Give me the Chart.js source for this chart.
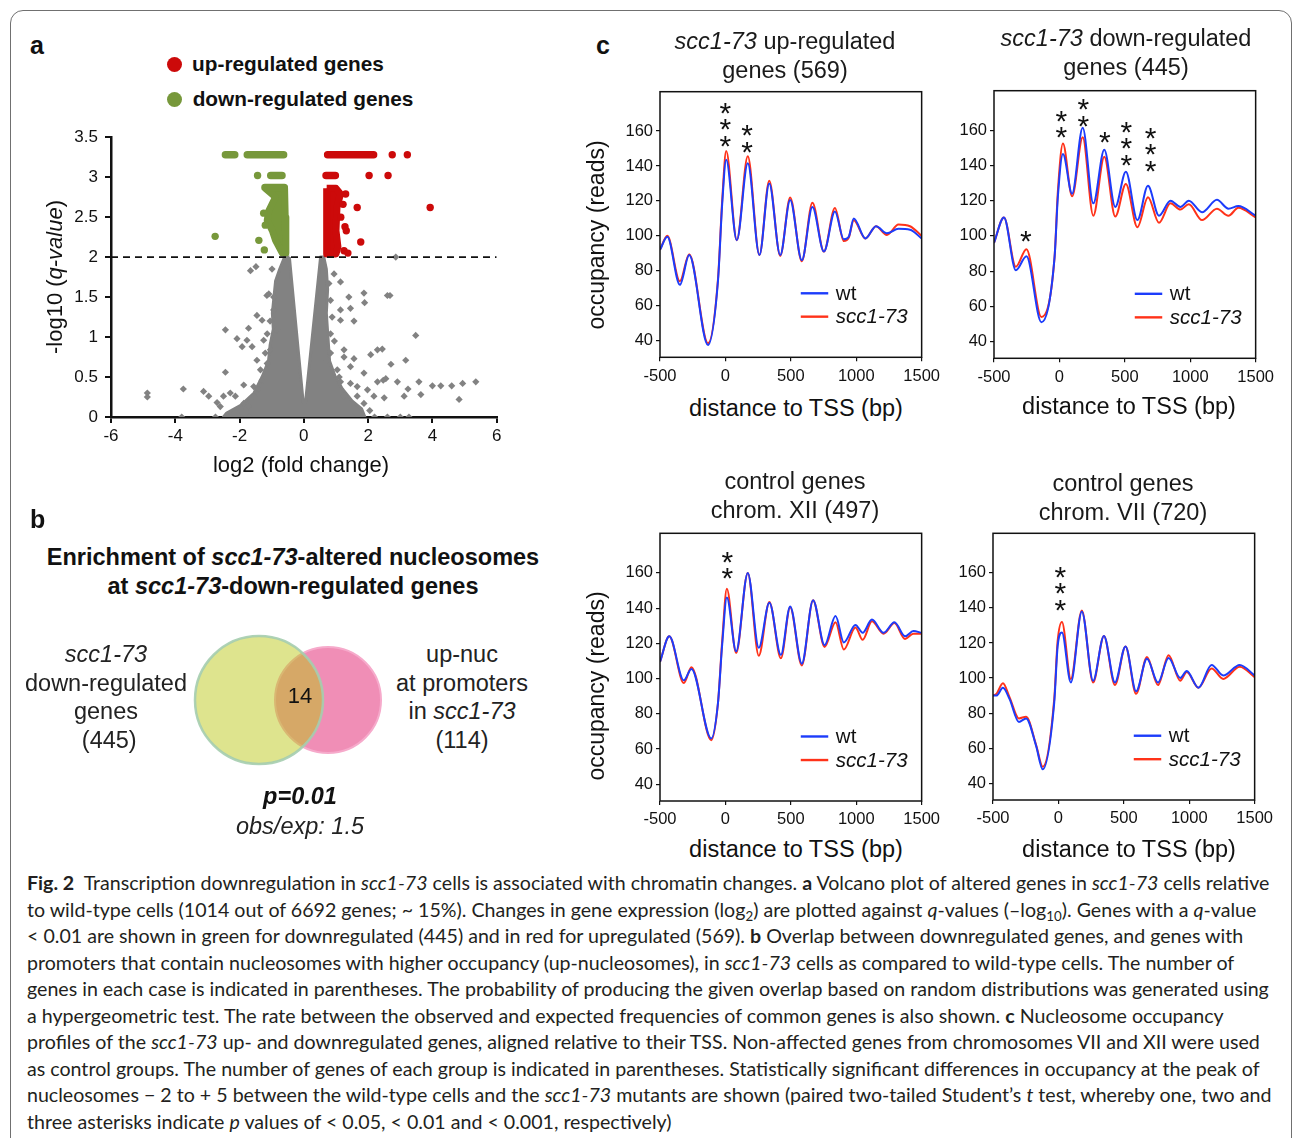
<!DOCTYPE html>
<html>
<head>
<meta charset="utf-8">
<script src="https://cdn.jsdelivr.net/npm/chart.js@4.4.1/dist/chart.umd.min.js"></script>
<style>
body { margin: 0; background: #fff; }
#fig { position: relative; width: 1293px; height: 1138px; overflow: hidden; font-family: "Liberation Sans", Arial, sans-serif; color: #111; }
.frame { position: absolute; left: 10px; top: 10px; width: 1282px; height: 1300px; border: 1.5px solid #707070; border-radius: 13px; box-sizing: border-box; }
.box { position: absolute; }
canvas { display: block; }
.t { position: absolute; transform: translate(-50%, -50%); white-space: nowrap; text-align: center; z-index: 2; }
.rot { transform: translate(-50%, -50%) rotate(-90deg); }
.lbl { position: absolute; font-weight: bold; font-size: 25px; z-index: 2; }
.dot { position: absolute; width: 15px; height: 15px; border-radius: 50%; }
#cap { position: absolute; left: 27px; top: 870px; font-family: Lato, "Open Sans", sans-serif; font-size: 20px; line-height: 26.5px; color: #231f20; }
#cap .ln { white-space: nowrap; width: max-content; }
#cap sub { font-size: 0.68em; line-height: 0; vertical-align: -0.3em; }
</style>
</head>
<body>
<div id="fig">
  <div class="frame"></div>

  <!-- panel a -->
  <div class="lbl" style="left:30px; top:31px">a</div>
  <div class="dot" style="left:167px; top:57px; background:#cc0a0a"></div>
  <div class="dot" style="left:167px; top:92px; background:#77983b"></div>
  <div class="t" style="left:288px; top:64px; font-weight:bold; font-size:20.8px">up-regulated genes</div>
  <div class="t" style="left:303px; top:99px; font-weight:bold; font-size:20.8px">down-regulated genes</div>
  <div class="box" style="left:40px; top:120px"><canvas id="volcano" width="480" height="345"></canvas></div>
  <div class="t rot" style="left:55px; top:277px; font-size:22px">-log10 (<i>q-value</i>)</div>
  <div class="t" style="left:301px; top:465px; font-size:22px">log2 (fold change)</div>

  <!-- panel b -->
  <div class="lbl" style="left:30px; top:505px">b</div>
  <div class="t" style="left:293px; top:572px; font-weight:bold; font-size:23.5px; line-height:29px">Enrichment of <i>scc1-73</i>-altered nucleosomes<br>at <i>scc1-73</i>-down-regulated genes</div>
  <div class="box" style="left:170px; top:620px"><canvas id="venn" width="225" height="160"></canvas></div>
  <div class="t" style="left:106px; top:697px; font-size:23.5px; line-height:28.7px; color:#222"><i>scc1-73</i><br>down-regulated<br>genes<br>&nbsp;(445)</div>
  <div class="t" style="left:462px; top:697px; font-size:23.5px; line-height:28.7px; color:#222">up-nuc<br>at promoters<br>in <i>scc1-73</i><br>(114)</div>
  <div class="t" style="left:300px; top:696px; font-size:22px">14</div>
  <div class="t" style="left:300px; top:796px; font-size:23.5px; font-weight:bold; font-style:italic">p=0.01</div>
  <div class="t" style="left:300px; top:826px; font-size:23.5px; font-style:italic; color:#222">obs/exp: 1.5</div>

  <!-- panel c -->
  <div class="lbl" style="left:596px; top:31px">c</div>
  <div class="t" style="left:785px; top:56px; font-size:23.5px; line-height:29px; color:#1a1a1a"><i>scc1-73</i> up-regulated<br>genes (569)</div>
  <div class="t" style="left:1126px; top:53px; font-size:23.5px; line-height:29px; color:#1a1a1a"><i>scc1-73</i> down-regulated<br>genes (445)</div>
  <div class="t" style="left:795px; top:496px; font-size:23.5px; line-height:29px; color:#1a1a1a">control genes<br>chrom. XII (497)</div>
  <div class="t" style="left:1123px; top:498px; font-size:23.5px; line-height:29px; color:#1a1a1a">control genes<br>chrom. VII (720)</div>
  <div class="box" style="left:600px; top:60px"><canvas id="c1" width="345" height="330"></canvas></div>
  <div class="box" style="left:934px; top:60px"><canvas id="c2" width="345" height="330"></canvas></div>
  <div class="box" style="left:600px; top:500px"><canvas id="c3" width="345" height="330"></canvas></div>
  <div class="box" style="left:933px; top:500px"><canvas id="c4" width="345" height="330"></canvas></div>
  <div class="t rot" style="left:596px; top:235px; font-size:23px">occupancy (reads)</div>
  <div class="t rot" style="left:596px; top:686px; font-size:23px">occupancy (reads)</div>
  <div class="t" style="left:796px; top:408px; font-size:23.5px">distance to TSS (bp)</div>
  <div class="t" style="left:1129px; top:406px; font-size:23.5px">distance to TSS (bp)</div>
  <div class="t" style="left:796px; top:849px; font-size:23.5px">distance to TSS (bp)</div>
  <div class="t" style="left:1129px; top:849px; font-size:23.5px">distance to TSS (bp)</div>

  <!-- caption -->
  <div id="cap">
    <div class="ln"><b>Fig. 2</b>&nbsp; Transcription downregulation in <i>scc1-73</i> cells is associated with chromatin changes. <b>a</b> Volcano plot of altered genes in <i>scc1-73</i> cells relative</div>
    <div class="ln">to wild-type cells (1014 out of 6692 genes; ~ 15%). Changes in gene expression (log<sub>2</sub>) are plotted against <i>q</i>-values (–log<sub>10</sub>). Genes with a <i>q</i>-value</div>
    <div class="ln">&lt; 0.01 are shown in green for downregulated (445) and in red for upregulated (569). <b>b</b> Overlap between downregulated genes, and genes with</div>
    <div class="ln">promoters that contain nucleosomes with higher occupancy (up-nucleosomes), in <i>scc1-73</i> cells as compared to wild-type cells. The number of</div>
    <div class="ln" id="ln5">genes in each case is indicated in parentheses. The probability of producing the given overlap based on random distributions was generated using</div>
    <div class="ln">a hypergeometric test. The rate between the observed and expected frequencies of common genes is also shown. <b>c</b> Nucleosome occupancy</div>
    <div class="ln">profiles of the <i>scc1-73</i> up- and downregulated genes, aligned relative to their TSS. Non-affected genes from chromosomes VII and XII were used</div>
    <div class="ln">as control groups. The number of genes of each group is indicated in parentheses. Statistically significant differences in occupancy at the peak of</div>
    <div class="ln">nucleosomes − 2 to + 5 between the wild-type cells and the <i>scc1-73</i> mutants are shown (paired two-tailed Student’s <i>t</i> test, whereby one, two and</div>
    <div class="ln">three asterisks indicate <i>p</i> values of &lt; 0.05, &lt; 0.01 and &lt; 0.001, respectively)</div>
  </div>
</div>

<script>
// ---- panel a: volcano plot (log2 fold change vs -log10 q) ----
const volcanoXTicks = [-6, -4, -2, 0, 2, 4, 6]
const volcanoYTicks = [0, 0.5, 1, 1.5, 2, 2.5, 3, 3.5]
const qThreshold = 2

// outline of the dense grey cloud of non-significant genes
const grayCore = [
  {x: -0.45, y: 2.0}, {x: -0.6, y: 2.0}, {x: -0.75, y: 1.85}, {x: -0.88, y: 1.7}, {x: -0.93, y: 1.5},
  {x: -0.98, y: 1.3}, {x: -0.95, y: 1.1}, {x: -1.05, y: 0.9}, {x: -1.1, y: 0.7}, {x: -1.3, y: 0.5},
  {x: -1.55, y: 0.3}, {x: -1.95, y: 0.15}, {x: -2.4, y: 0.05}, {x: -2.5, y: 0.0},
  {x: 1.9, y: 0.0}, {x: 1.8, y: 0.1}, {x: 1.5, y: 0.2}, {x: 1.2, y: 0.35}, {x: 0.98, y: 0.5},
  {x: 0.8, y: 0.7}, {x: 0.75, y: 1.0}, {x: 0.7, y: 1.3}, {x: 0.74, y: 1.6}, {x: 0.7, y: 1.85},
  {x: 0.62, y: 2.0}, {x: 0.52, y: 2.0}, {x: 0.05, y: 0.18}, {x: -0.02, y: 0.18}
]
const grayPoints = [
  [-4.87, 0.30], [-4.87, 0.25], [-3.75, 0.35], [-3.8, 0.0], [-3.12, 0.32], [-2.96, 0.26], [-2.7, 0.18],
  [-2.6, 0.13], [-2.5, 0.26], [-2.44, 1.09], [-2.44, 0.56], [-2.29, 0.30], [-2.13, 0.26], [-2.08, 0.98],
  [-1.92, 0.88], [-1.87, 0.40], [-1.87, 0.17], [-1.77, 0.96], [-1.72, 1.11], [-1.61, 0.88], [-1.56, 0.38],
  [-1.46, 1.27], [-1.46, 0.71], [-1.35, 0.59], [-1.30, 1.21], [-1.25, 0.96], [-1.25, 0.46], [-1.66, 1.83],
  [-1.49, 1.88], [-1.15, 1.52], [-1.09, 1.54], [-0.99, 1.85], [-0.94, 1.34], [-2.75, 0.0], [-2.35, 0.0],
  [-2.0, 0.0], [-1.7, 0.0], [-1.14, 1.04], [-1.04, 0.84], [-1.14, 0.67], [-1.30, 0.46], [-1.56, 0.26],
  [-1.72, 0.13], [-0.83, 1.09], [-0.94, 1.50], [-1.05, 1.2], [-1.2, 0.8], [-1.4, 0.35], [-2.0, 0.1],
  [0.78, 1.67], [0.94, 1.79], [1.14, 1.69], [1.40, 1.50], [1.87, 1.55], [1.89, 1.43], [2.60, 1.52],
  [2.68, 1.52], [1.14, 1.34], [1.45, 1.36], [1.14, 1.21], [1.56, 1.20], [3.48, 1.02], [2.86, 2.0],
  [2.08, 0.78], [2.29, 0.84], [2.44, 0.85], [1.56, 0.73], [2.71, 0.66], [3.17, 0.71], [1.45, 0.63],
  [1.87, 0.55], [2.55, 0.48], [2.29, 0.44], [2.91, 0.44], [2.47, 0.46], [3.58, 0.44], [3.64, 0.28],
  [3.24, 0.35], [4.0, 0.39], [4.26, 0.39], [4.6, 0.39], [4.94, 0.42], [5.35, 0.44], [4.83, 0.22],
  [1.14, 0.44], [1.25, 0.26], [1.66, 0.38], [1.98, 0.34], [2.18, 0.26], [2.50, 0.24], [3.12, 0.26],
  [0.83, 0.80], [1.25, 0.84], [2.2, 0.0], [2.6, 0.0], [3.0, 0.0], [3.27, 0.0], [1.5, 0.0],
  [0.73, 0.71], [1.04, 0.59], [1.45, 0.42], [1.66, 0.26], [1.87, 0.17], [1.25, 0.75], [0.83, 1.04],
  [0.88, 1.25], [0.83, 1.46], [0.95, 0.95], [1.1, 0.5], [2.05, 0.08]
]
// runs of overlapping dots: [from, to, -log10 q]
const downRows = [[-2.44, -2.15, 3.28], [-1.76, -0.63, 3.28], [-1.03, -0.68, 3.02], [-1.21, -0.61, 2.87]]
const upRows = [[0.74, 2.17, 3.28], [0.69, 0.98, 3.02]]
const downBlob = [
  {x: -1.2, y: 2.86}, {x: -0.6, y: 2.86}, {x: -0.58, y: 2.5}, {x: -0.56, y: 2.05}, {x: -0.67, y: 2.05},
  {x: -0.88, y: 2.21}, {x: -0.98, y: 2.33}, {x: -1.14, y: 2.46}, {x: -1.09, y: 2.58}, {x: -0.88, y: 2.75}
]
const upBlob = [
  {x: 0.71, y: 2.86}, {x: 1.0, y: 2.86}, {x: 1.14, y: 2.79}, {x: 1.03, y: 2.62}, {x: 1.0, y: 2.33},
  {x: 1.06, y: 2.13}, {x: 1.0, y: 2.04}, {x: 0.71, y: 2.04}
]
const downPoints = [[-2.76, 2.26], [-1.40, 2.21], [-1.23, 2.09], [-1.44, 3.02], [-1.25, 2.55], [-1.2, 2.4]]
const upPoints = [
  [2.75, 3.28], [3.22, 3.28], [2.03, 3.02], [2.62, 3.02], [1.66, 2.62], [3.93, 2.62], [1.77, 2.19],
  [1.32, 2.33], [1.25, 2.08], [1.30, 2.79], [1.22, 2.66], [1.37, 2.05], [1.28, 2.38], [1.15, 2.5]
]

// ---- panel b: venn ----
const vennCounts = [445, 114]
const vennOverlap = 14
const vennX = [89, 158]
const vennY = [80, 80]

// ---- panel c: nucleosome occupancy profiles ----
const tssTicks = [-500, 0, 500, 1000, 1500]
const occTicks = [40, 60, 80, 100, 120, 140, 160]

const upBp  = [-500, -444, -348, -277, -133, -57, -24, 6, 87, 171, 260, 335, 419, 495, 584, 665, 753, 837, 905, 943, 981, 1070, 1151, 1234, 1323, 1411, 1500]
const upWt  = [92, 99.5, 72, 89, 37.5, 74, 119, 143.5, 97.5, 141.5, 89, 130, 89, 120.5, 86, 116.5, 91, 114, 98, 99.5, 110, 98.5, 105.5, 101.5, 104, 103.5, 98.5]
const upMut = [92, 100, 74, 89.5, 38.5, 75, 121, 148.5, 97.5, 145.5, 89, 131.5, 88.5, 122, 85.5, 119, 91, 116, 97, 99, 109, 98.5, 105.5, 100.5, 106.5, 105.5, 100]
const upStars = [{bp: 0, occ: 155.5, n: 3}, {bp: 166, occ: 152, n: 2}]

const downBp  = [-500, -424, -333, -252, -138, -37, -12, 27, 97, 178, 259, 343, 427, 508, 596, 677, 761, 849, 925, 989, 1090, 1204, 1292, 1368, 1500]
const downWt  = [96, 110.5, 80.5, 88.5, 51, 88, 122, 146.5, 124, 161.5, 118.5, 149, 116.5, 136.5, 109, 128.5, 111.5, 120, 116.5, 120, 113.5, 120.5, 115.5, 117, 111.5]
const downMut = [96, 110.5, 82.5, 92.5, 54, 88, 125, 152.5, 122.5, 156, 111.5, 145, 111, 129.5, 105, 122, 107.5, 118.5, 115, 118, 109, 115.5, 111.5, 116, 110.5]
const downStars = [{bp: -257, occ: 101, n: 1}, {bp: 14, occ: 160, n: 2}, {bp: 183, occ: 166.7, n: 2}, {bp: 348, occ: 157.2, n: 1}, {bp: 512, occ: 144.3, n: 3}, {bp: 697, occ: 141, n: 3}]

const xiiBp  = [-500, -429, -318, -260, -108, -57, -24, 11, 82, 171, 255, 336, 424, 495, 584, 670, 758, 842, 905, 994, 1049, 1120, 1209, 1292, 1373, 1437, 1500]
const xiiWt  = [109.5, 124, 99, 105.5, 66, 86, 120, 146, 115.5, 160, 117.5, 143, 113.5, 141, 108.5, 144.5, 119, 135.5, 120.5, 130.5, 126, 133.5, 126, 132, 124, 127, 126]
const xiiMut = [109.5, 124, 97.5, 106.5, 65, 86, 122, 151, 114.5, 160, 113, 143.5, 111.5, 140.5, 107.5, 144.5, 118, 132, 116.5, 129, 122, 132.5, 125.5, 131.5, 122.5, 125.5, 125.5]
const xiiStars = [{bp: 14, occ: 160.9, n: 2}]

const viiBp  = [-500, -474, -424, -373, -302, -247, -171, -120, -32, -6, 27, 95, 179, 265, 348, 432, 513, 594, 677, 761, 842, 931, 981, 1070, 1171, 1260, 1386, 1500]
const viiWt  = [90, 90, 94.5, 88, 75, 77, 61.5, 48, 86, 118, 126, 97.5, 138, 98.5, 124, 97.5, 118, 92.5, 111, 97.5, 111.5, 100, 104, 94.5, 107.5, 101.5, 107.5, 101.5]
const viiMut = [90, 91, 97, 89, 77, 78, 62, 49.5, 88, 121, 132, 99.5, 138.5, 97.5, 124, 96, 118, 91, 112, 96, 113, 98.5, 103.5, 94.5, 105.5, 99.5, 106.5, 100.5]
const viiStars = [{bp: 14, occ: 142.9, n: 3}]

Chart.defaults.font.family = '"Liberation Sans", Arial, sans-serif'
Chart.defaults.color = '#111'

const GRAY = '#828282'
const UP = '#cc0a0a'
const DOWN = '#77983b'
const BLUE = '#1c3cfb'
const ORANGE = '#ff3219'

const pts = arr => arr.map(p => ({x: p[0], y: p[1]}))
const rowsToLine = rows => rows.flatMap(r => [{x: r[0], y: r[2]}, {x: r[1], y: r[2]}, {x: r[1], y: null}])
const closed = arr => arr.concat([arr[0]])

function polygon(data, color, width) {
  return {
    type: 'line', data: closed(data), fill: 'shape', backgroundColor: color, borderColor: color,
    borderWidth: width, borderJoinStyle: 'round', pointRadius: 0, tension: 0
  }
}
function runs(rows, color) {
  return {
    type: 'line', data: rowsToLine(rows), borderColor: color, borderWidth: 7.5,
    borderCapStyle: 'round', pointRadius: 0, spanGaps: false
  }
}

new Chart(document.getElementById('volcano'), {
  type: 'scatter',
  data: {
    datasets: [
      {type: 'line', data: [{x: -6, y: qThreshold}, {x: 6, y: qThreshold}], borderColor: '#111',
       borderDash: [7, 5], borderWidth: 1.6, pointRadius: 0},
      {data: pts(downPoints), backgroundColor: DOWN, pointRadius: 3.7, borderWidth: 0},
      {data: pts(upPoints), backgroundColor: UP, pointRadius: 3.7, borderWidth: 0},
      runs(downRows, DOWN),
      runs(upRows, UP),
      polygon(downBlob, DOWN, 7),
      polygon(upBlob, UP, 7),
      {data: pts(grayPoints), pointStyle: 'rectRot', backgroundColor: GRAY, pointRadius: 3.6, borderWidth: 0},
      polygon(grayCore, GRAY, 3)
    ]
  },
  options: {
    responsive: false, animation: false, events: [],
    layout: {padding: {top: 16, right: 23.3, left: 0, bottom: 0}},
    plugins: {legend: {display: false}, tooltip: {enabled: false}},
    scales: {
      x: {
        type: 'linear', min: -6, max: 6,
        afterBuildTicks: a => { a.ticks = volcanoXTicks.map(v => ({value: v})) },
        afterFit: s => { s.height = 48 },
        grid: {drawOnChartArea: false, tickLength: 6, color: '#111', lineWidth: 2},
        border: {color: '#111', width: 2.5},
        ticks: {font: {size: 17}, color: '#111', padding: 3, maxRotation: 0, autoSkip: false, callback: v => String(v)}
      },
      y: {
        min: 0, max: 3.5,
        afterBuildTicks: a => { a.ticks = volcanoYTicks.map(v => ({value: v})) },
        afterFit: s => { s.width = 71 },
        grid: {drawOnChartArea: false, tickLength: 6, color: '#111', lineWidth: 2},
        border: {color: '#111', width: 2.5},
        ticks: {font: {size: 17}, color: '#111', padding: 7, autoSkip: false, callback: v => String(v)}
      }
    }
  }
})

new Chart(document.getElementById('venn'), {
  type: 'bubble',
  data: {
    labels: ['scc1-73 down-regulated genes (' + vennCounts[0] + ')', 'up-nuc at promoters in scc1-73 (' + vennCounts[1] + ')'],
    datasets: [
      {data: [{x: vennX[0], y: vennY[0]}], radius: 64, backgroundColor: 'rgba(185,198,15,0.47)',
       borderColor: 'rgba(165,205,175,0.9)', borderWidth: 2.5, clip: false},
      {data: [{x: vennX[1], y: vennY[1]}], radius: 53, backgroundColor: '#f08eb6',
       borderColor: '#f6aacb', borderWidth: 2, clip: false}
    ]
  },
  options: {
    responsive: false, animation: false, events: [],
    layout: {padding: 0, autoPadding: false},
    plugins: {legend: {display: false}, tooltip: {enabled: false}},
    scales: {x: {display: false, min: 0, max: 225}, y: {display: false, min: 0, max: 160}}
  }
})

const framePlugin = {
  id: 'frame',
  afterDraw(chart) {
    const {ctx, chartArea: a} = chart
    ctx.save()
    ctx.strokeStyle = '#111'
    ctx.lineWidth = 1.5
    ctx.strokeRect(a.left, a.top, a.width, a.height)
    ctx.restore()
  }
}

const legendPlugin = {
  id: 'inLegend',
  afterDatasetsDraw(chart) {
    const {ctx, chartArea: a} = chart
    chart.data.datasets.forEach((ds, i) => {
      const y = a.top + a.height * (0.759 + i * 0.088)
      ctx.save()
      ctx.strokeStyle = ds.borderColor
      ctx.lineWidth = 2.4
      ctx.beginPath()
      ctx.moveTo(a.left + a.width * 0.538, y)
      ctx.lineTo(a.left + a.width * 0.643, y)
      ctx.stroke()
      ctx.fillStyle = '#111'
      ctx.font = (i === 1 ? 'italic ' : '') + '20.5px "Liberation Sans", Arial, sans-serif'
      ctx.textBaseline = 'middle'
      ctx.fillText(ds.label, a.left + a.width * 0.672, y + 1)
      ctx.restore()
    })
  }
}

function profile(id, bp, wt, mut, stars, pad) {
  const starPlugin = {
    id: 'stars',
    afterDatasetsDraw(chart) {
      const {ctx, scales: {x, y}} = chart
      ctx.save()
      ctx.fillStyle = '#111'
      ctx.font = '30px "Liberation Sans", Arial, sans-serif'
      ctx.textAlign = 'center'
      ctx.textBaseline = 'alphabetic'
      stars.forEach(m => {
        for (let k = 0; k < m.n; k++) {
          ctx.fillText('*', x.getPixelForValue(m.bp), y.getPixelForValue(m.occ) - k * 16.5 + 17)
        }
      })
      ctx.restore()
    }
  }
  new Chart(document.getElementById(id), {
    type: 'line',
    data: {
      datasets: [
        {label: 'wt', data: bp.map((x, i) => ({x: x, y: wt[i]})), borderColor: BLUE, borderWidth: 2,
         pointRadius: 0, cubicInterpolationMode: 'monotone'},
        {label: 'scc1-73', data: bp.map((x, i) => ({x: x, y: mut[i]})), borderColor: ORANGE, borderWidth: 2,
         pointRadius: 0, cubicInterpolationMode: 'monotone'}
      ]
    },
    options: {
      responsive: false, animation: false, events: [],
      layout: {padding: {top: pad.top, right: pad.right, left: 0, bottom: 0}},
      plugins: {legend: {display: false}, tooltip: {enabled: false}},
      scales: {
        x: {
          type: 'linear', min: -500, max: 1500,
          afterBuildTicks: a => { a.ticks = tssTicks.map(v => ({value: v})) },
          afterFit: s => { s.height = pad.xh },
          grid: {drawOnChartArea: false, tickLength: 4, color: '#111', lineWidth: 1.2},
          border: {display: false},
          ticks: {font: {size: 16.5}, color: '#111', padding: 5, maxRotation: 0, autoSkip: false, callback: v => String(v)}
        },
        y: {
          min: 30.5, max: 182.5,
          afterBuildTicks: a => { a.ticks = occTicks.map(v => ({value: v})) },
          afterFit: s => { s.width = 60 },
          grid: {drawOnChartArea: false, tickLength: 4, color: '#111', lineWidth: 1.2},
          border: {display: false},
          ticks: {font: {size: 16.5}, color: '#111', padding: 3, autoSkip: false, callback: v => String(v)}
        }
      }
    },
    plugins: [framePlugin, legendPlugin, starPlugin]
  })
}

profile('c1', upBp, upWt, upMut, upStars, {top: 31.7, right: 21.7, xh: 32.7})
profile('c2', downBp, downWt, downMut, downStars, {top: 30.7, right: 21.7, xh: 31.7})
profile('c3', xiiBp, xiiWt, xiiMut, xiiStars, {top: 33.3, right: 21.7, xh: 29})
profile('c4', viiBp, viiWt, viiMut, viiStars, {top: 33.3, right: 21.3, xh: 30})

// fit caption so the longest line spans the same width as in the figure
const cap = document.getElementById('cap')
const w5 = document.getElementById('ln5').getBoundingClientRect().width
cap.style.fontSize = (20 * 1243 / w5) + 'px'
</script>
</body>
</html>
